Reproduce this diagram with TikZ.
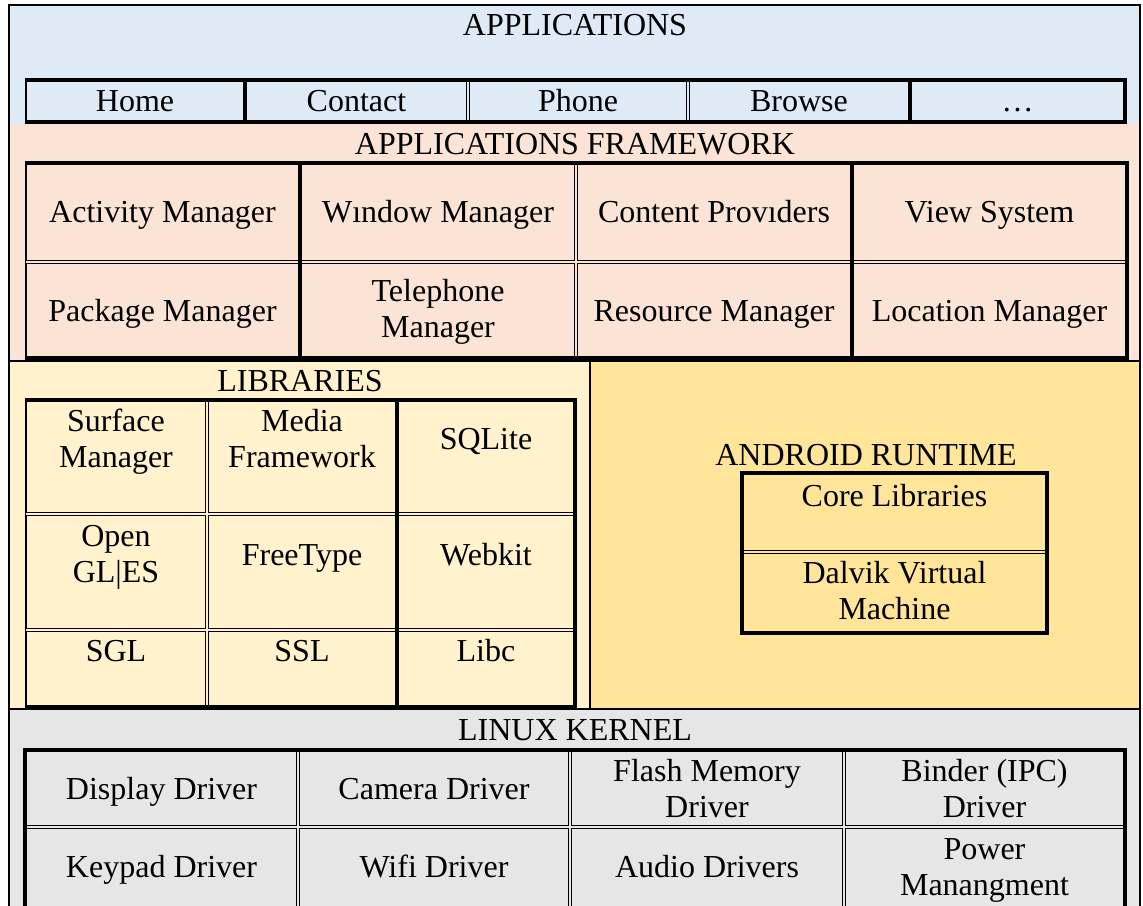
\documentclass[tikz,border=0pt]{standalone}
\usepackage{fontspec}
\setmainfont{Liberation Serif}
\usetikzlibrary{calc}
\definecolor{appblue}{HTML}{DEEAF6}
\definecolor{fwpeach}{HTML}{FBE4D5}
\definecolor{libyellow}{HTML}{FFF2CC}
\definecolor{rtyellow}{HTML}{FFE599}
\definecolor{kngray}{HTML}{E7E6E6}
\newcommand{\lblstrut}{\rule[-9pt]{0pt}{34pt}}

\begin{document}
\begin{tikzpicture}[x=1pt,y=-1pt,
    cellline/.style={draw=black,line width=0.9pt},
    heavyline/.style={draw=black,line width=4pt},
    partline/.style={draw=black,line width=1.6pt},
    lbl/.style={align=center,inner sep=0pt,font=\fontsize{32}{36}\selectfont,
      execute at begin node=\lblstrut,execute at end node=\lblstrut,yshift=-2.6pt}]
		\useasboundingbox (0,0) rectangle (1143,905);
		%Coloured layers
		\fill[appblue] (9,5) rectangle (1140,124);
		\fill[fwpeach] (9,124) rectangle (1140,361);
		\fill[libyellow] (9,361) rectangle (590,709);
		\fill[rtyellow] (590,361) rectangle (1140,709);
		\fill[kngray] (9,709) rectangle (1140,915);
		%Layer borders
		\draw[partline] (9,5) rectangle (1140,915);
		\draw[partline] (9,361) -- (1140,361);
		\draw[partline] (9,709) -- (1140,709);
		\draw[partline] (590,361) -- (590,709);
		%Applications table
		\foreach \xa/\xb in {25/245,245/468,468/688,688/910,910/1125}
			\draw[cellline] (\xa+1.6,81.6) rectangle (\xb-1.6,120.4);
		\draw[cellline] (25,80) -- (25,122);
		\draw[heavyline] (25,80) -- (1125,80) -- (1125,122) -- (25,122);
		\foreach \xd in {245,910} \draw[heavyline] (\xd,80) -- (\xd,122);
		%Framework table
		\foreach \xa/\xb in {25/300,300/576,576/852,852/1127}
			\foreach \ya/\yb in {163/262,262/358}
				\draw[cellline] (\xa+1.6,\ya+1.6) rectangle (\xb-1.6,\yb-1.6);
		\draw[cellline] (25,163) -- (25,358);
		\draw[heavyline] (25,163) -- (1127,163) -- (1127,358) -- (25,358);
		\foreach \xd in {300,852} \draw[heavyline] (\xd,163) -- (\xd,358);
		%Libraries table
		\foreach \xa/\xb in {25/207,207/397,397/575}
			\foreach \ya/\yb in {400/514,514/630,630/707}
				\draw[cellline] (\xa+1.6,\ya+1.6) rectangle (\xb-1.6,\yb-1.6);
		\draw[cellline] (25,400) -- (25,707);
		\draw[heavyline] (25,400) -- (575,400) -- (575,707) -- (25,707);
		\draw[heavyline] (397,400) -- (397,707);
		%Runtime box
		\foreach \ya/\yb in {473/552,552/633}
			\draw[cellline] (742+1.6,\ya+1.6) rectangle (1047-1.6,\yb-1.6);
		\draw[heavyline] (742,473) rectangle (1047,633);
		%Kernel table
		\foreach \xa/\xb in {25/298,298/570,570/844,844/1125}
			\foreach \ya/\yb in {750/827,827/915}
				\draw[cellline] (\xa+1.6,\ya+1.6) rectangle (\xb-1.6,\yb-1.6);
		\draw[heavyline] (25,915) -- (25,750) -- (1125,750) -- (1125,915);
		\draw[cellline] (25,750) -- (25,915);
		%Labels
		\node[lbl] (apptitle) at (575,25) {APPLICATIONS};
		\node[lbl] (home) at (135,101) {Home};
		\node[lbl] (contact) at (356.5,101) {Contact};
		\node[lbl] (phone) at (578,101) {Phone};
		\node[lbl] (browse) at (799,101) {Browse};
		\node[lbl] (more) at (1017.5,101) {…};
		\node[lbl] (fwtitle) at (575,143.4) {APPLICATIONS FRAMEWORK};
		\node[lbl] (actmgr) at (162.5,212) {Activity Manager};
		\node[lbl] (winmgr) at (438,212) {Wındow Manager};
		\node[lbl] (contprov) at (714,212) {Content Provıders};
		\node[lbl] (viewsys) at (989.5,212) {View System};
		\node[lbl] (pkgmgr) at (162.5,310.5) {Package Manager};
		\node[lbl] (telmgr) at (438,310.5) {Telephone\\Manager};
		\node[lbl] (resmgr) at (714,310.5) {Resource Manager};
		\node[lbl] (locmgr) at (989.5,310.5) {Location Manager};
		\node[lbl] (libtitle) at (300,381) {LIBRARIES};
		\node[lbl] (surfmgr) at (116,440.5) {Surface\\Manager};
		\node[lbl] (mediafw) at (302,440.5) {Media\\Framework};
		\node[lbl] (sqlite) at (486,439) {SQLite};
		\node[lbl] (opengl) at (116,556) {Open\\GL|ES};
		\node[lbl] (freetype) at (302,555) {FreeType};
		\node[lbl] (webkit) at (486,555) {Webkit};
		\node[lbl] (sgl) at (116,651) {SGL};
		\node[lbl] (ssl) at (302,651) {SSL};
		\node[lbl] (libc) at (486,651) {Libc};
		\node[lbl] (rttitle) at (866,455) {ANDROID RUNTIME};
		\node[lbl] (corelib) at (894.5,495.5) {Core Libraries};
		\node[lbl] (dalvik) at (894.5,592) {Dalvik Virtual\\Machine};
		\node[lbl] (kntitle) at (575,729.5) {LINUX KERNEL};
		\node[lbl] (dispdrv) at (161.5,788.5) {Display Driver};
		\node[lbl] (camdrv) at (434,788.5) {Camera Driver};
		\node[lbl] (flashdrv) at (707,790) {Flash Memory\\Driver};
		\node[lbl] (binderdrv) at (984.5,790) {Binder (IPC)\\Driver};
		\node[lbl] (keydrv) at (161.5,866.5) {Keypad Driver};
		\node[lbl] (wifidrv) at (434,866.5) {Wifi Driver};
		\node[lbl] (audiodrv) at (707,866.5) {Audio Drivers};
		\node[lbl] (powermgmt) at (984.5,868.5) {Power\\Manangment};
	\end{tikzpicture}
\end{document}
